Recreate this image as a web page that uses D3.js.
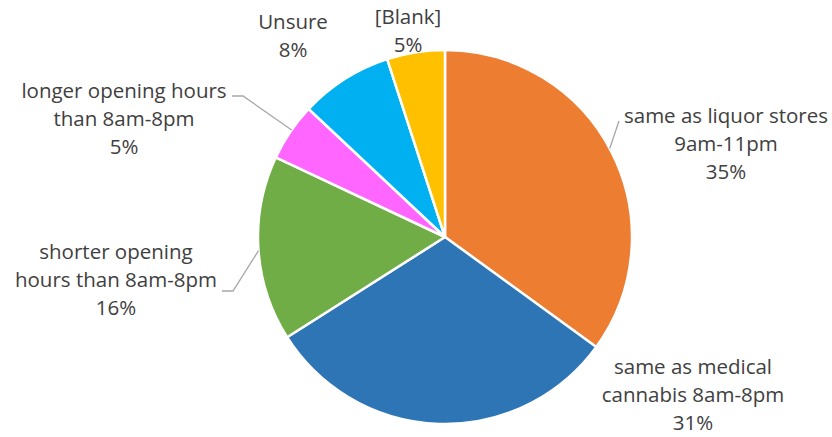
<!DOCTYPE html>
<html>
<head>
<meta charset="utf-8">
<script src="https://cdn.jsdelivr.net/npm/d3@7"></script>
<style>
  html, body { margin: 0; padding: 0; background: #fff; }
  svg { display: block; }
  text { font-family: "Open Sans", Lato, sans-serif; fill: #404040; }
</style>
</head>
<body>
<svg id="chart" width="832" height="437"></svg>
<script>
// Opening-hours preference shares (percent)
const categories = [
  "same as liquor stores 9am-11pm",
  "same as medical cannabis 8am-8pm",
  "shorter opening hours than 8am-8pm",
  "longer opening hours than 8am-8pm",
  "Unsure",
  "[Blank]"
];
const values = [35, 31, 16, 5, 8, 5];
const colors = ["#ED7D31", "#2E75B6", "#70AD47", "#FF66FF", "#00B0F0", "#FFC000"];
// Label text broken into lines as displayed
const labelLines = [
  ["same as liquor stores", "9am-11pm"],
  ["same as medical", "cannabis 8am-8pm"],
  ["shorter opening", "hours than 8am-8pm"],
  ["longer opening hours", "than 8am-8pm"],
  ["Unsure"],
  ["[Blank]"]
];

const svg = d3.select("#chart");
const cx = 445, cy = 237, R = 187;

const pie = d3.pie().sort(null).value(d => d)(values);
const arc = d3.arc().innerRadius(0).outerRadius(R);

const g = svg.append("g").attr("transform", `translate(${cx},${cy})`);
g.selectAll("path")
  .data(pie)
  .join("path")
  .attr("d", arc)
  .attr("fill", (d, i) => colors[i])
  .attr("stroke", "#fff")
  .attr("stroke-width", 2.5)
  .attr("stroke-linejoin", "round");

// Label anchors (centre x, first-line y)
const labelPos = [
  { x: 726, y: 123 },
  { x: 693, y: 374 },
  { x: 116, y: 259 },
  { x: 124, y: 98 },
  { x: 293, y: 29 },
  { x: 408, y: 24 }
];
const lineH = 28;

const labels = svg.append("g");
pie.forEach((d, i) => {
  const lines = labelLines[i].concat([values[i] + "%"]);
  const t = labels.append("text")
    .attr("text-anchor", "middle")
    .attr("font-size", 20.5)
    .attr("x", labelPos[i].x)
    .attr("y", labelPos[i].y);
  lines.forEach((s, k) => {
    t.append("tspan").attr("x", labelPos[i].x).attr("dy", k === 0 ? 0 : lineH).text(s);
  });
});

// Leader lines from labels to slice edges
function edgePoint(d, frac) {
  const a = d.startAngle + (d.endAngle - d.startAngle) * frac;
  return [cx + R * Math.sin(a), cy - R * Math.cos(a)];
}
const leaders = [
  { i: 0, pts: [[619, 121]], frac: 0.49 },
  { i: 3, pts: [[232, 96], [243, 96]], frac: 0.54 },
  { i: 2, pts: [[222, 291], [233, 291]], frac: 0.49 }
];
leaders.forEach(L => {
  const pts = L.pts.concat([edgePoint(pie[L.i], L.frac)]);
  svg.append("path")
    .attr("d", d3.line()(pts))
    .attr("fill", "none")
    .attr("stroke", "#A6A6A6")
    .attr("stroke-width", 1.3);
});
</script>
</body>
</html>
